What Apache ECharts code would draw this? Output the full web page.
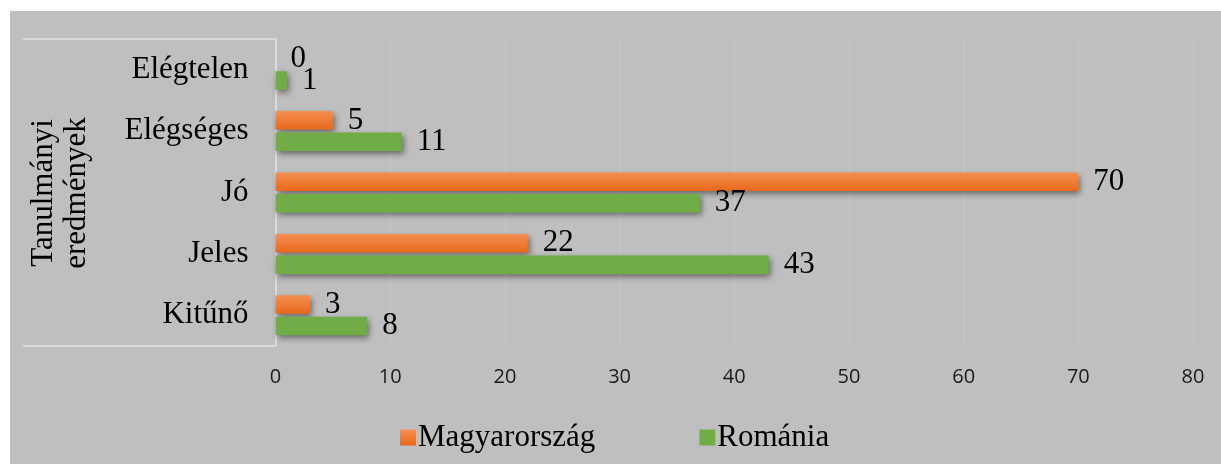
<!DOCTYPE html>
<html>
<head>
<meta charset="utf-8">
<script src="https://cdn.jsdelivr.net/npm/echarts@6/dist/echarts.min.js"></script>
<style>
html,body{margin:0;padding:0;background:#fff;}
#c{width:1221px;height:464px;}
</style>
</head>
<body>
<div id="c"></div>
<script>
const categories = ['Kitűnő', 'Jeles', 'Jó', 'Elégséges', 'Elégtelen'];
const magyarorszag = [3, 22, 70, 5, 0];
const romania = [8, 43, 37, 11, 1];
const xTicks = { min: 0, max: 80, interval: 10 };
const axisTitle = 'Tanulmányi\neredmények';

const serif = '"Liberation Serif", "Times New Roman", serif';
const chart = echarts.init(document.getElementById('c'), null, { renderer: 'canvas' });

const shadow = {
  shadowColor: 'rgba(0,0,0,0.45)',
  shadowBlur: 6,
  shadowOffsetX: 2,
  shadowOffsetY: 3
};

chart.setOption({
  backgroundColor: '#ffffff',
  animation: false,
  graphic: [
    { type: 'rect', z: -10, silent: true, shape: { x: 10, y: 11, width: 1211, height: 453 }, style: { fill: '#bfbfbf' } },
    { type: 'line', z: 5, silent: true, shape: { x1: 23, y1: 39, x2: 276, y2: 39 }, style: { stroke: '#e2e2e2', lineWidth: 1.5 } },
    { type: 'line', z: 5, silent: true, shape: { x1: 23, y1: 346, x2: 276, y2: 346 }, style: { stroke: '#e2e2e2', lineWidth: 1.5 } },
    { type: 'text', z: 5, silent: true, x: 60, y: 193, rotation: Math.PI / 2,
      style: { text: axisTitle, font: '31px ' + serif, fill: '#000', align: 'center', verticalAlign: 'middle', lineHeight: 33 } }
  ],
  grid: { left: 275.5, right: 28, top: 39, bottom: 118, containLabel: false },
  legend: {
    data: ['Magyarország', 'Románia'],
    left: 395, top: 417,
    icon: 'rect', itemWidth: 16, itemHeight: 16, itemGap: 104,
    textStyle: { fontFamily: serif, fontSize: 31, color: '#000', padding: [0, 0, 0, -3] }
  },
  xAxis: {
    type: 'value', min: xTicks.min, max: xTicks.max, interval: xTicks.interval,
    axisLine: { show: false }, axisTick: { show: false },
    axisLabel: { fontFamily: '"Open Sans", sans-serif', fontSize: 20, color: '#1a1a1a', margin: 21 },
    splitLine: { show: true, lineStyle: { color: '#c9c9c9', width: 1 } }
  },
  yAxis: {
    type: 'category', data: categories,
    axisLine: { show: true, lineStyle: { color: '#e2e2e2', width: 1.5 } },
    axisTick: { show: false },
    axisLabel: { fontFamily: serif, fontSize: 31, color: '#000', margin: 27 }
  },
  series: [
    {
      name: 'Magyarország', type: 'bar', data: magyarorszag,
      barWidth: 18.5, barGap: '16%',
      itemStyle: Object.assign({
        color: new echarts.graphic.LinearGradient(0, 0, 0, 1, [
          { offset: 0, color: '#f58f52' },
          { offset: 1, color: '#e8681a' }
        ])
      }, shadow),
      label: { show: true, position: 'right', distance: 15, fontFamily: serif, fontSize: 31, color: '#000' }
    },
    {
      name: 'Románia', type: 'bar', data: romania,
      barWidth: 18.5, barGap: '16%',
      itemStyle: Object.assign({ color: '#70ad47' }, shadow),
      label: { show: true, position: 'right', distance: 15, fontFamily: serif, fontSize: 31, color: '#000' }
    }
  ]
});
</script>
</body>
</html>
